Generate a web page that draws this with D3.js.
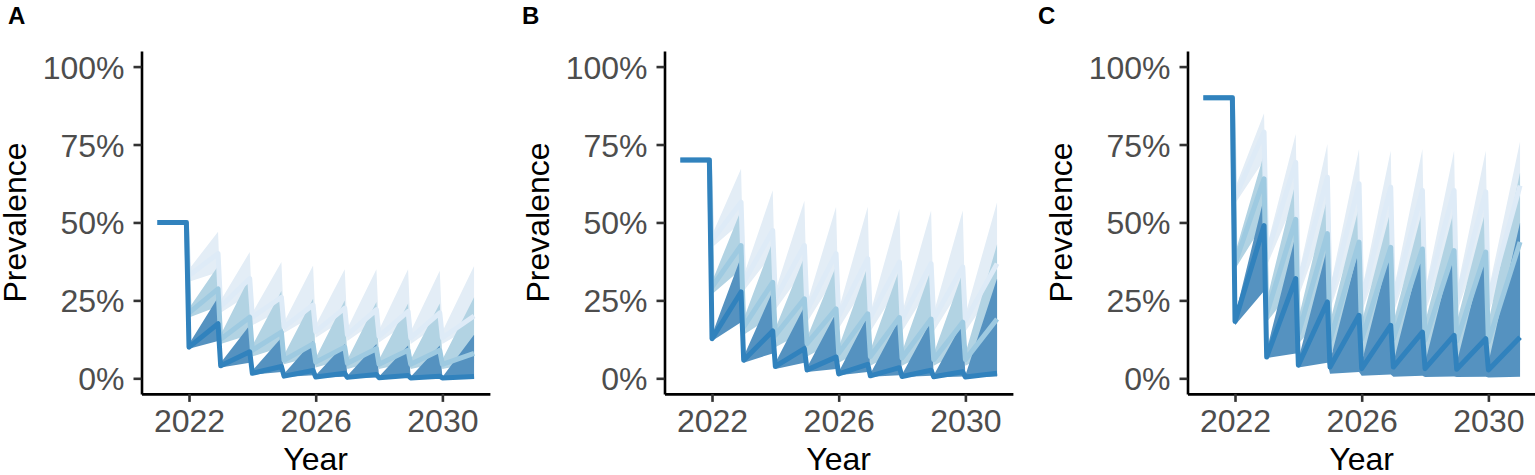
<!DOCTYPE html>
<html><head><meta charset="utf-8">
<script src="https://cdn.jsdelivr.net/npm/d3@7"></script>
<style>body{margin:0;background:#fff} svg{display:block}</style>
</head><body>
<svg id="chart" width="1535" height="475"></svg>
<script>
// ---------- data (prevalence in %) ----------
const panelLabels = ["A", "B", "C"];
const baseline = [50, 70, 90];
const startTimes = [2021, 2021.917];
const troughTime = [2022, 2023, 2024, 2025, 2026, 2027, 2028, 2029, 2030];
const peakTime = [2022.917, 2023.917, 2024.917, 2025.917, 2026.917, 2027.917, 2028.917, 2029.917, 2031];
const xTicks = [2022, 2026, 2030];
const yTicks = [0, 25, 50, 75, 100];
const yTickLabels = ["0%", "25%", "50%", "75%", "100%"];
const scenarios = ["light", "mid", "dark"];

// Panel A
const A_dark_med0 = [10, 4, 1.6, 0.7, 0.4, 0.3, 0.2, 0.1, 0.1];
const A_dark_med1 = [17.5, 8.5, 3.8, 2.5, 1.6, 1.2, 0.9, 0.7, 0.6];
const A_dark_lo0 = [9.5, 3.5, 1.2, 0.4, 0.2, 0.1, 0.1, 0, 0];
const A_dark_lo1 = [12, 5, 2, 1, 0.5, 0.3, 0.2, 0.1, 0.1];
const A_dark_hi0 = [11, 5, 2.5, 1.5, 1, 0.8, 0.6, 0.5, 0.4];
const A_dark_hi1 = [26, 17, 13, 12, 11, 11, 10.5, 10.5, 14];
const A_mid_med0 = [21, 12.5, 9, 5.8, 5.2, 4.8, 4.5, 4.5, 4.5];
const A_mid_med1 = [28.7, 19.6, 14.8, 11, 10, 9.5, 9, 9, 8];
const A_mid_lo0 = [19.5, 11, 7, 4.5, 3.5, 3, 3, 3, 3];
const A_mid_lo1 = [23, 14, 10, 7, 6, 5.5, 5, 5, 5];
const A_mid_hi0 = [22.5, 14, 10.5, 7.5, 6.5, 6, 6, 6, 6];
const A_mid_hi1 = [36, 32.5, 28, 25.5, 25, 24.5, 24, 24, 26];
const A_light_med0 = [33, 23, 19.6, 16.5, 15, 14, 13.5, 13, 13];
const A_light_med1 = [40, 32, 26, 23.5, 22.5, 22, 21.5, 21, 20];
const A_light_lo0 = [31, 21, 17, 14.5, 13, 12, 11.5, 11, 11];
const A_light_lo1 = [34, 27, 22, 20, 19, 18.5, 18, 17.5, 17];
const A_light_hi0 = [35, 25, 21, 18, 17, 16, 15.5, 15, 15];
const A_light_hi1 = [47, 40.5, 37.3, 36.2, 35, 35, 35, 34.5, 36];

// Panel B
const B_dark_med0 = [12.7, 5.8, 3.8, 2.7, 1.4, 0.8, 0.6, 0.5, 0.4];
const B_dark_med1 = [27.7, 15.2, 9.5, 6.8, 4.5, 3.4, 2.6, 2.1, 1.6];
const B_dark_lo0 = [12, 5, 3, 2, 1, 0.5, 0.4, 0.3, 0.3];
const B_dark_lo1 = [18, 8, 5, 3, 2, 1, 0.8, 0.6, 0.6];
const B_dark_hi0 = [14, 7, 5, 3.5, 2, 1.5, 1.2, 1, 1];
const B_dark_hi1 = [39, 28, 23, 21, 20, 19, 18.5, 18, 32];
const B_mid_med0 = [29.3, 16.5, 13.8, 11.1, 8, 7, 6.5, 6, 6];
const B_mid_med1 = [42.6, 30.8, 25.5, 22.3, 20.7, 19.5, 19, 18, 19];
const B_mid_lo0 = [27, 14, 10, 7, 5, 4, 4, 4, 4];
const B_mid_lo1 = [35, 20, 15, 12, 10, 9, 9, 9, 9];
const B_mid_hi0 = [31, 19, 16, 13, 10, 9, 8.5, 8, 8];
const B_mid_hi1 = [54, 44, 39, 36, 36, 35, 35, 34, 43];
const B_light_med0 = [44.2, 30.8, 25.5, 21.8, 20, 19.5, 19, 19, 18.5];
const B_light_med1 = [56.5, 47.4, 42.6, 40, 38.4, 37.3, 36.8, 35.7, 36.8];
const B_light_lo0 = [42, 28, 22, 18, 16, 15, 15, 15, 15];
const B_light_lo1 = [50, 40, 35, 33, 31, 30, 30, 30, 30];
const B_light_hi0 = [46, 33, 28, 24, 22, 21, 21, 21, 20.5];
const B_light_hi1 = [67.2, 60.3, 57, 55, 55, 54.4, 53.8, 53.8, 56.5];

// Panel C
const C_dark_med0 = [18.2, 6.8, 4.2, 3.6, 3.1, 3.6, 3.1, 2.9, 2.7];
const C_dark_med1 = [49, 32, 24.5, 20.2, 17, 14.8, 13.8, 12.7, 13.2];
const C_dark_lo0 = [17, 6.5, 3.5, 1.5, 0.8, 0.5, 0.4, 0.4, 0.3];
const C_dark_lo1 = [28, 8, 5, 2, 1.2, 0.8, 0.6, 0.5, 0.5];
const C_dark_hi0 = [20, 9, 6, 5.5, 5, 5, 5, 5, 5];
const C_dark_hi1 = [58, 46, 42, 42, 42, 42, 42, 42, 50];
const C_mid_med0 = [36.8, 20.7, 14.3, 12.2, 12.5, 12.7, 12.2, 12, 11.7];
const C_mid_med1 = [64, 51, 46.4, 43.7, 42, 41.5, 41, 40.5, 43.7];
const C_mid_lo0 = [35, 18, 11, 8, 7, 6, 6, 6, 6];
const C_mid_lo1 = [50, 30, 22, 18, 16, 15, 15, 15, 15];
const C_mid_hi0 = [40, 25, 19, 18, 18, 18, 18, 18, 18];
const C_mid_hi1 = [72, 63, 58, 55, 54, 54, 54, 54, 66];
const C_light_med0 = [58, 39.4, 30, 26, 25, 25, 25, 25, 25];
const C_light_med1 = [79, 69.3, 64.5, 62.4, 61.3, 60.3, 60.3, 59.8, 61.8];
const C_light_lo0 = [56, 36, 26, 22, 21, 21, 21, 21, 21];
const C_light_lo1 = [70, 58, 52, 50, 48, 48, 48, 48, 48];
const C_light_hi0 = [61, 42, 33, 29, 28, 28, 28, 28, 28];
const C_light_hi1 = [85, 78.4, 75.2, 73.6, 73, 73.6, 73, 73, 76];

// ---------- assemble table ----------
const raw = {
  A: {dark: [A_dark_med0, A_dark_med1, A_dark_lo0, A_dark_lo1, A_dark_hi0, A_dark_hi1],
      mid: [A_mid_med0, A_mid_med1, A_mid_lo0, A_mid_lo1, A_mid_hi0, A_mid_hi1],
      light: [A_light_med0, A_light_med1, A_light_lo0, A_light_lo1, A_light_hi0, A_light_hi1]},
  B: {dark: [B_dark_med0, B_dark_med1, B_dark_lo0, B_dark_lo1, B_dark_hi0, B_dark_hi1],
      mid: [B_mid_med0, B_mid_med1, B_mid_lo0, B_mid_lo1, B_mid_hi0, B_mid_hi1],
      light: [B_light_med0, B_light_med1, B_light_lo0, B_light_lo1, B_light_hi0, B_light_hi1]},
  C: {dark: [C_dark_med0, C_dark_med1, C_dark_lo0, C_dark_lo1, C_dark_hi0, C_dark_hi1],
      mid: [C_mid_med0, C_mid_med1, C_mid_lo0, C_mid_lo1, C_mid_hi0, C_mid_hi1],
      light: [C_light_med0, C_light_med1, C_light_lo0, C_light_lo1, C_light_hi0, C_light_hi1]}
};

// ---------- styles ----------
const lineColor = {dark: "#3182bd", mid: "#9ecae1", light: "#deebf7"};
const ribbonColor = {dark: "#5592c0", mid: "#b2d3e3", light: "#e3edf6"};
const font = "'Liberation Sans', Arial, Helvetica, sans-serif";

const svg = d3.select("#chart");
const panelOffset = 523;
const letterX = [8, 522, 1038];
const x0 = 141.5, panelW = 348.4;
const yTop = 51.0, yBottom = 393.9;

panelLabels.forEach((p, pi) => {
  const ox = pi * panelOffset;
  const g = svg.append("g");
  const x = d3.scaleLinear().domain([2020.5, 2031.5]).range([ox + x0, ox + x0 + panelW]);
  const y = d3.scaleLinear().domain([-5, 105]).range([yBottom, yTop]);

  const series = scenarios.map(s => {
    const [m0, m1, l0, l1, h0, h1] = raw[p][s];
    const line = [{t: startTimes[0], v: baseline[pi]}, {t: startTimes[1], v: baseline[pi]}];
    const band = [];
    troughTime.forEach((t, i) => {
      line.push({t: t, v: m0[i]}, {t: peakTime[i], v: m1[i]});
      band.push({t: t, lo: l0[i], hi: h0[i]}, {t: peakTime[i], lo: l1[i], hi: h1[i]});
    });
    return {s, line, band};
  });

  const area = d3.area().x(d => x(d.t)).y0(d => y(d.lo)).y1(d => y(d.hi));
  const lineGen = d3.line().x(d => x(d.t)).y(d => y(d.v));

  series.forEach(sr => {
    g.append("path").attr("d", area(sr.band)).attr("fill", ribbonColor[sr.s]);
  });
  series.forEach(sr => {
    g.append("path").attr("d", lineGen(sr.line)).attr("fill", "none")
      .attr("stroke", lineColor[sr.s]).attr("stroke-width", 5)
      .attr("stroke-linejoin", "round").attr("stroke-linecap", "butt");
  });

  // axes
  const yAxis = d3.axisLeft(y).tickValues(yTicks).tickFormat((d, i) => yTickLabels[i])
    .tickSizeInner(8).tickSizeOuter(0).tickPadding(9);
  const ya = g.append("g").attr("transform", `translate(${ox + x0},0)`).call(yAxis);
  const xAxis = d3.axisBottom(x).tickValues(xTicks).tickFormat(d3.format("d"))
    .tickSizeInner(8).tickSizeOuter(0).tickPadding(7);
  const xa = g.append("g").attr("transform", `translate(0,${yBottom})`).call(xAxis);
  [ya, xa].forEach(a => {
    a.select(".domain").attr("stroke", "#000").attr("stroke-width", 2.6);
    a.selectAll(".tick line").attr("stroke", "#333").attr("stroke-width", 2.6);
    a.selectAll(".tick text").attr("fill", "#4d4d4d")
      .style("font-family", font).style("font-size", "32px");
  });
  ya.selectAll(".tick text").attr("dy", "0.36em");
  xa.selectAll(".tick text").attr("dy", "0.72em");

  // titles
  g.append("text").attr("x", ox + x0 + panelW / 2).attr("y", 470)
    .attr("text-anchor", "middle").style("font-family", font).style("font-size", "32px")
    .attr("fill", "#000").text("Year");
  g.append("text").attr("transform", `translate(${ox + 26},${(yTop + yBottom) / 2}) rotate(-90)`)
    .attr("text-anchor", "middle").style("font-family", font).style("font-size", "32px")
    .attr("fill", "#000").text("Prevalence");
  g.append("text").attr("x", letterX[pi]).attr("y", 24)
    .style("font-family", font).style("font-size", "24px").style("font-weight", "bold")
    .attr("fill", "#000").text(p);
});
</script>
</body></html>
